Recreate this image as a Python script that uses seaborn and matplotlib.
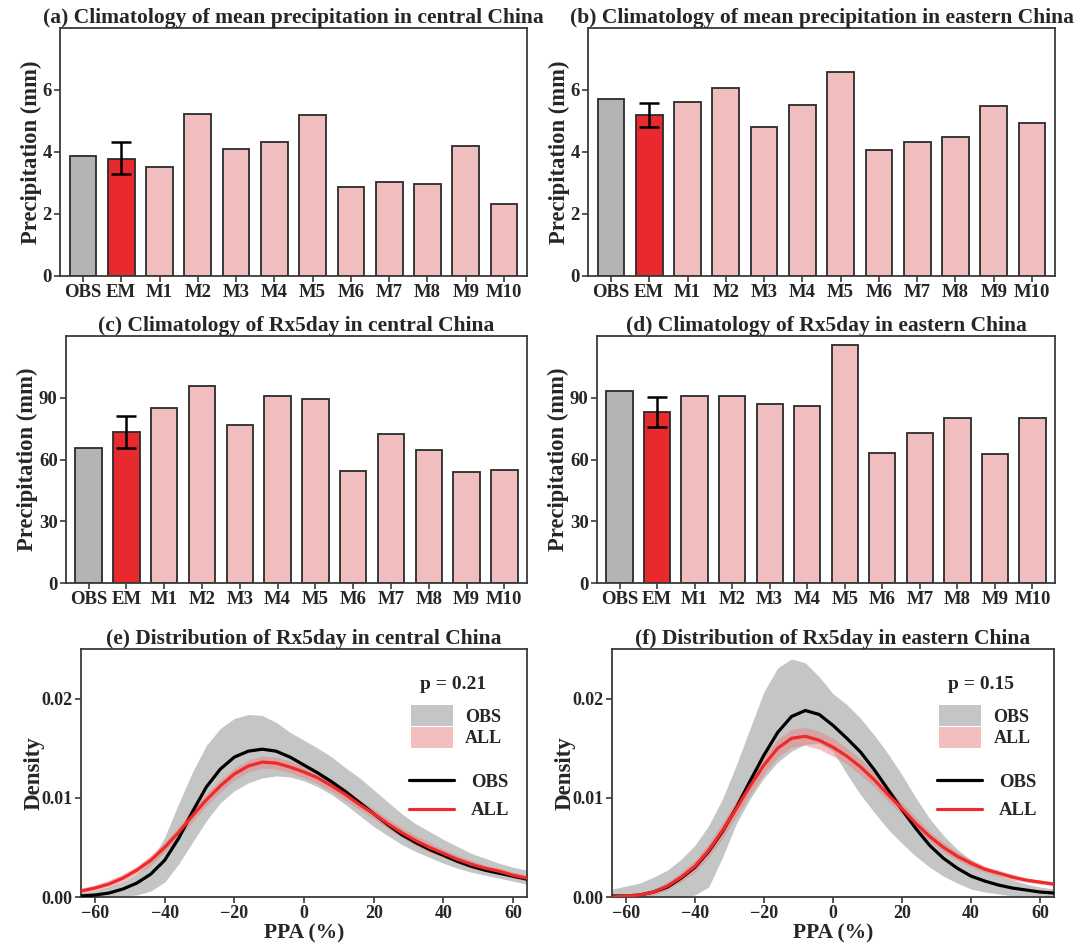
import numpy as np
import pandas as pd
import matplotlib
matplotlib.use("Agg")
import matplotlib.pyplot as plt
import seaborn as sns
from matplotlib.patches import Patch
from matplotlib.lines import Line2D

sns.set_theme(style="ticks")
plt.rcParams['font.family'] = ['Liberation Serif', 'DejaVu Serif']
plt.rcParams['font.weight'] = 'bold'
plt.rcParams['axes.titleweight'] = 'bold'
plt.rcParams['axes.labelweight'] = 'bold'

# ---------------- data ----------------
models = ["OBS", "EM", "M1", "M2", "M3", "M4", "M5", "M6", "M7", "M8", "M9", "M10"]

mean_central = [3.88, 3.77, 3.50, 5.23, 4.09, 4.32, 5.20, 2.86, 3.04, 2.96, 4.18, 2.31]
mean_central_em_err = (3.28, 4.31)
mean_eastern = [5.71, 5.20, 5.62, 6.07, 4.82, 5.53, 6.57, 4.06, 4.32, 4.48, 5.47, 4.95]
mean_eastern_em_err = (4.82, 5.59)

rx5_central = [65.8, 73.6, 84.8, 95.5, 76.6, 90.7, 89.2, 54.3, 72.2, 64.5, 54.0, 54.8]
rx5_central_em_err = (65.6, 81.0)
rx5_eastern = [93.2, 82.9, 90.8, 90.8, 86.8, 86.1, 115.5, 63.1, 72.7, 80.0, 62.6, 80.3]
rx5_eastern_em_err = (75.8, 90.6)

ppa = [-64, -60, -56, -52, -48, -44, -40, -36, -32, -28, -24, -20, -16, -12, -8, -4, 0,
       4, 8, 12, 16, 20, 24, 28, 32, 36, 40, 44, 48, 52, 56, 60, 64]

# central China densities
e_obs_line = [.0001, .0002, .0004, .0008, .0014, .0023, .0037, .0059, .0086, .0111, .0129, .0141, .0147,
              .0149, .0147, .0141, .0133, .0125, .0116, .0106, .0095, .0084, .0073, .0063, .0055,
              .0048, .0042, .0036, .0031, .0027, .0024, .0021, .0018]
e_all_line = [.0006, .0009, .0013, .0019, .0027, .0037, .0050, .0065, .0082, .0098, .0112, .0124, .0132,
              .0136, .0135, .0131, .0126, .0120, .0112, .0103, .0093, .0084, .0074, .0065, .0057,
              .0050, .0044, .0038, .0033, .0029, .0026, .0022, .0019]
e_all_hi = [.0009, .0012, .0017, .0023, .0031, .0042, .0055, .0071, .0088, .0104, .0118, .0130, .0138,
            .0142, .0141, .0137, .0132, .0126, .0118, .0109, .0098, .0089, .0079, .0070, .0062,
            .0055, .0048, .0042, .0037, .0032, .0029, .0025, .0022]
e_all_lo = [.0003, .0006, .0009, .0015, .0023, .0032, .0045, .0059, .0076, .0092, .0106, .0118, .0126,
            .0130, .0129, .0125, .0120, .0114, .0106, .0097, .0088, .0079, .0069, .0060, .0052,
            .0045, .0040, .0034, .0029, .0026, .0023, .0019, .0016]
e_obs_hi = [.0004, .0006, .0010, .0015, .0023, .0036, .0060, .0094, .0126, .0153, .0170, .0180, .0184,
            .0183, .0176, .0166, .0158, .0150, .0141, .0130, .0120, .0108, .0096, .0084, .0074,
            .0066, .0058, .0051, .0044, .0039, .0034, .0030, .0027]
e_obs_lo = [.0000, .0000, .0000, .0001, .0002, .0006, .0015, .0033, .0055, .0077, .0095, .0107, .0115,
            .0120, .0122, .0121, .0117, .0111, .0103, .0093, .0082, .0071, .0062, .0053, .0046,
            .0040, .0034, .0029, .0025, .0022, .0019, .0016, .0013]

# eastern China densities
f_obs_line = [.0001, .0001, .0002, .0005, .0010, .0019, .0030, .0046, .0066, .0090, .0117, .0143, .0166,
              .0182, .0188, .0184, .0173, .0160, .0146, .0128, .0108, .0088, .0069, .0052, .0039,
              .0029, .0021, .0016, .0012, .0009, .0007, .0005, .0004]
f_all_line = [.0000, .0001, .0002, .0005, .0011, .0020, .0031, .0047, .0067, .0089, .0112, .0133, .0150,
              .0160, .0162, .0158, .0151, .0142, .0131, .0118, .0103, .0089, .0074, .0061, .0050,
              .0041, .0034, .0028, .0024, .0020, .0017, .0015, .0013]
f_all_hi = [.0001, .0002, .0004, .0008, .0015, .0025, .0037, .0054, .0075, .0097, .0121, .0142, .0159,
            .0169, .0171, .0167, .0160, .0150, .0139, .0125, .0110, .0095, .0080, .0066, .0055,
            .0045, .0038, .0031, .0027, .0023, .0019, .0017, .0015]
f_all_lo = [.0000, .0000, .0000, .0002, .0007, .0015, .0025, .0040, .0059, .0081, .0103, .0124, .0141,
            .0151, .0153, .0149, .0142, .0134, .0123, .0111, .0096, .0083, .0068, .0056, .0045,
            .0037, .0030, .0025, .0021, .0017, .0015, .0013, .0011]
f_obs_hi = [.0008, .0011, .0014, .0020, .0027, .0038, .0052, .0072, .0099, .0133, .0170, .0207, .0231,
            .0240, .0236, .0222, .0205, .0194, .0180, .0163, .0144, .0123, .0100, .0079, .0062,
            .0048, .0037, .0029, .0022, .0017, .0013, .0010, .0008]
f_obs_lo = [.0000, .0000, .0000, .0000, .0000, .0000, .0002, .0010, .0040, .0074, .0099, .0120, .0136,
            .0147, .0154, .0155, .0147, .0124, .0103, .0085, .0068, .0054, .0041, .0030, .0021,
            .0014, .0008, .0005, .0003, .0001, .0000, .0000, .0000]

p_central = "p = 0.21"
p_eastern = "p = 0.15"

# ---------------- style ----------------
C_OBS = "#b4b4b6"
C_EM = "#e82a2e"
C_M = "#f0bebe"
EDGE = "#2b2b2b"
SPINE = "#3a3a3a"

fig = plt.figure(figsize=(10.9, 9.47), dpi=100)
W, H = 1090, 947


def ax_px(l, r, t, b):
    return fig.add_axes([l / W, 1 - b / H, (r - l) / W, (b - t) / H])


def style_axes(ax, size):
    for s in ax.spines.values():
        s.set_color(SPINE)
        s.set_linewidth(1.3)
    ax.tick_params(axis='both', direction='out', length=4, width=1.2, color=SPINE,
                   labelsize=size, pad=2)
    for lab in ax.get_xticklabels() + ax.get_yticklabels():
        lab.set_fontweight('bold')


def bar_panel(ax, vals, err, title, ymax, yticks):
    df = pd.DataFrame({"model": models, "value": vals})
    pal = {m: (C_OBS if m == "OBS" else C_EM if m == "EM" else C_M) for m in models}
    sns.barplot(data=df, x="model", y="value", hue="model", palette=pal, legend=False,
                width=0.7, edgecolor=EDGE, linewidth=1.3, saturation=1, ax=ax)
    em = vals[1]
    ax.errorbar([1], [em], yerr=[[em - err[0]], [err[1] - em]], fmt='none',
                ecolor='black', elinewidth=1.8, capsize=7, capthick=1.8, zorder=5)
    ax.set_xlim(-0.6, 11.6)
    ax.set_ylim(0, ymax)
    ax.set_yticks(yticks)
    ax.set_xlabel("")
    ax.set_ylabel("Precipitation (mm)", fontsize=16.3, fontweight='bold', labelpad=0.5)
    ax.set_title(title, fontsize=15.5, fontweight='bold', pad=3)
    style_axes(ax, 13.5)


def dens_panel(ax, obs_line, all_line, obs_hi, obs_lo, all_hi, all_lo, title, ptxt):
    ax.fill_between(ppa, obs_lo, obs_hi, color="#c4c5c5", lw=0, zorder=1)
    ax.fill_between(ppa, all_lo, all_hi, color="#e88080", alpha=0.5, lw=0, zorder=2)
    sns.lineplot(x=ppa, y=obs_line, color="black", lw=2.3, ax=ax, zorder=3)
    sns.lineplot(x=ppa, y=all_line, color="#ee2a2a", lw=2.3, ax=ax, zorder=4)
    ax.set_xlim(-64, 64)
    ax.set_ylim(0, 0.025)
    ax.set_xticks([-60, -40, -20, 0, 20, 40, 60])
    ax.set_yticks([0, 0.01, 0.02])
    ax.set_yticklabels(["0.00", "0.01", "0.02"])
    ax.set_xlabel("PPA (%)", fontsize=15.5, fontweight='bold', labelpad=1)
    ax.set_ylabel("Density", fontsize=16.5, fontweight='bold', labelpad=-2)
    ax.set_title(title, fontsize=15.5, fontweight='bold', pad=3)
    style_axes(ax, 13)
    ax.text(0.835, 0.855, ptxt, transform=ax.transAxes, ha='center', va='center',
            fontsize=14, fontweight='bold')
    h1 = [Patch(facecolor="#c4c5c5", edgecolor='none'),
          Patch(facecolor="#f2bebe", edgecolor='none')]
    leg1 = ax.legend(h1, ["OBS", "ALL"], loc='upper left', bbox_to_anchor=(0.72, 0.81),
                     frameon=False, handlelength=2.3, handleheight=1.4,
                     labelspacing=0.05, handletextpad=0.7, borderpad=0,
                     prop={'weight': 'bold', 'size': 13})
    ax.add_artist(leg1)
    h2 = [Line2D([0], [0], color='black', lw=2.3),
          Line2D([0], [0], color='#ee2a2a', lw=2.3)]
    ax.legend(h2, ["OBS", "ALL"], loc='upper left', bbox_to_anchor=(0.715, 0.535),
              frameon=False, handlelength=2.4, labelspacing=0.6, handletextpad=0.9,
              borderpad=0, prop={'weight': 'bold', 'size': 13.5})


ax_a = ax_px(60, 527, 28, 276)
bar_panel(ax_a, mean_central, mean_central_em_err,
          "(a) Climatology of mean precipitation in central China", 8, [0, 2, 4, 6])
ax_b = ax_px(588, 1055, 28, 276)
bar_panel(ax_b, mean_eastern, mean_eastern_em_err,
          "(b) Climatology of mean precipitation in eastern China", 8, [0, 2, 4, 6])
ax_c = ax_px(66, 527, 336, 583)
bar_panel(ax_c, rx5_central, rx5_central_em_err,
          "(c) Climatology of Rx5day in central China", 120, [0, 30, 60, 90])
ax_d = ax_px(597, 1055, 336, 583)
bar_panel(ax_d, rx5_eastern, rx5_eastern_em_err,
          "(d) Climatology of Rx5day in eastern China", 120, [0, 30, 60, 90])

ax_e = ax_px(81, 527, 649, 897)
dens_panel(ax_e, e_obs_line, e_all_line, e_obs_hi, e_obs_lo, e_all_hi, e_all_lo,
           "(e) Distribution of Rx5day in central China", p_central)
ax_f = ax_px(612, 1054, 649, 897)
dens_panel(ax_f, f_obs_line, f_all_line, f_obs_hi, f_obs_lo, f_all_hi, f_all_lo,
           "(f) Distribution of Rx5day in eastern China", p_eastern)

fig.savefig("out.png", dpi=100)
